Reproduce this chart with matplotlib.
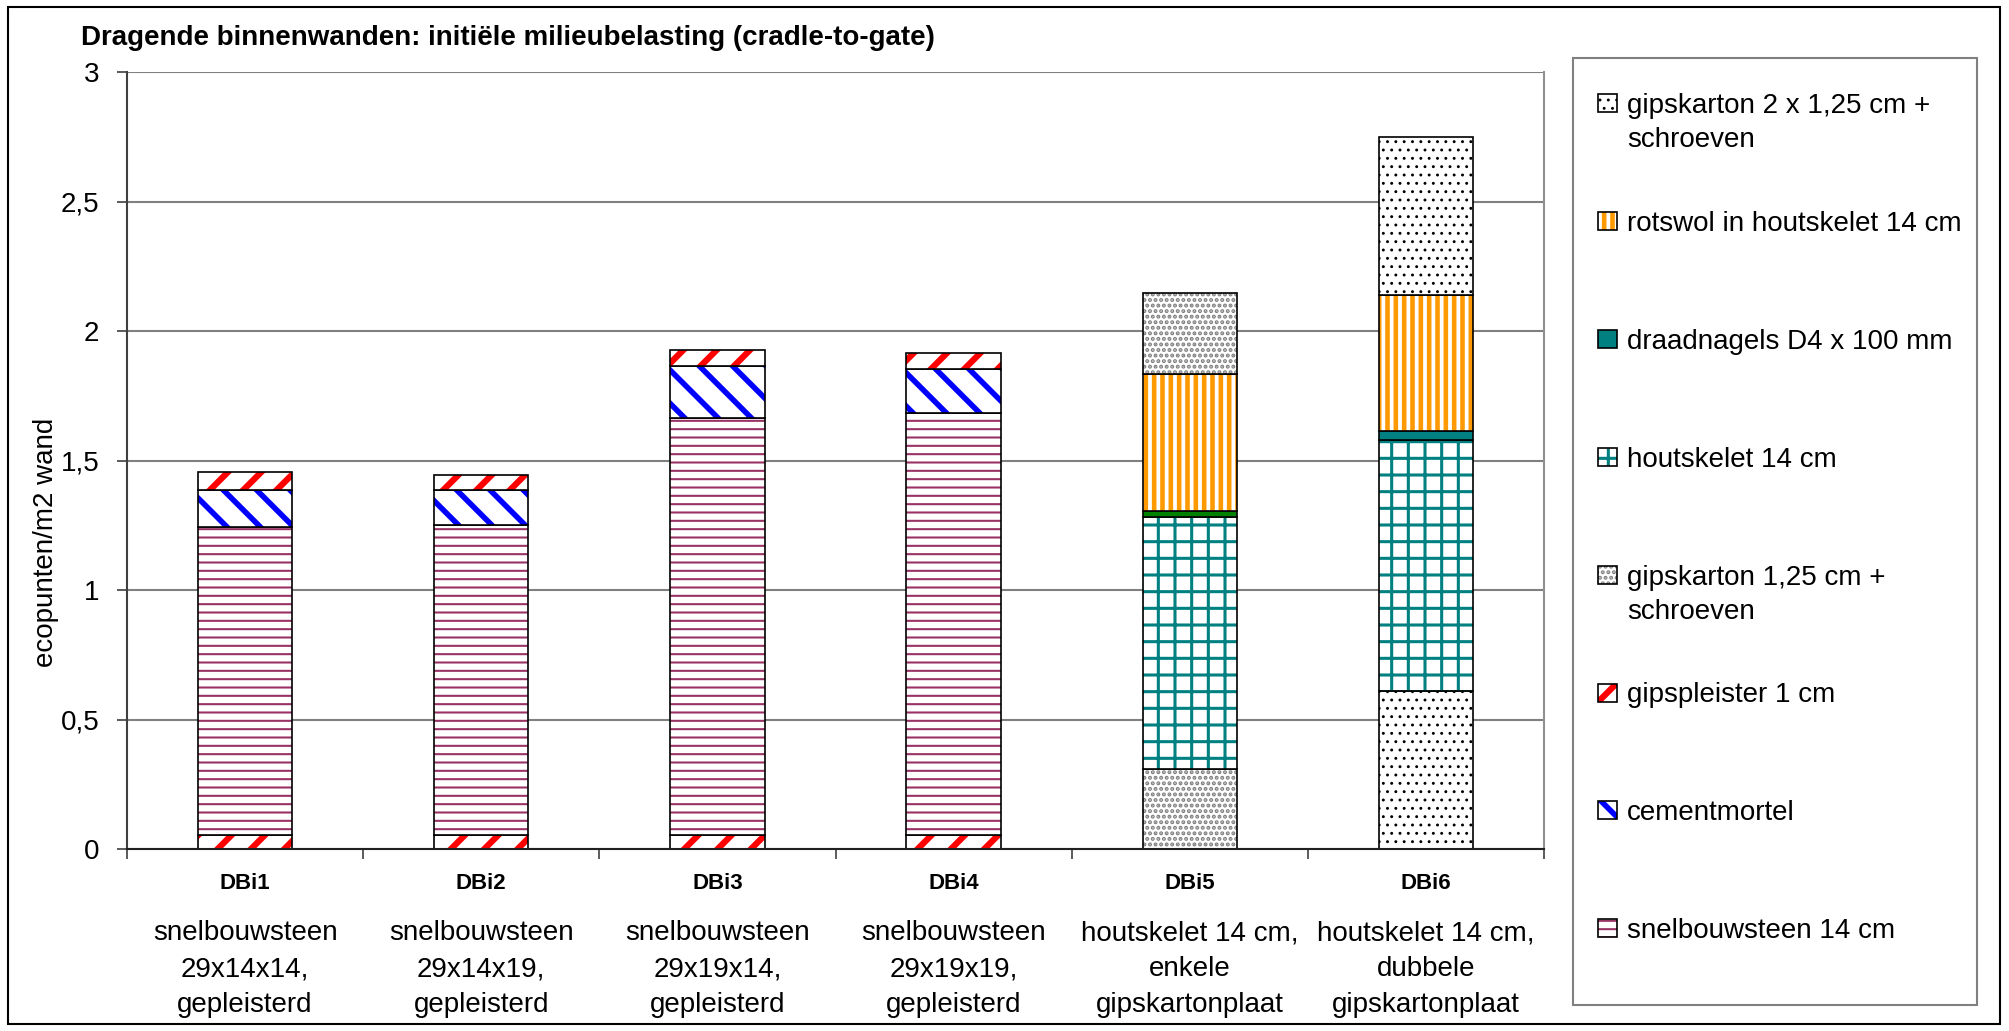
import numpy as np
import matplotlib.pyplot as plt
import matplotlib.transforms as mtransforms
from matplotlib.patches import Rectangle

plt.rcParams['font.family'] = ['Liberation Sans', 'DejaVu Sans']

W, H = 2009, 1031

codes = ['DBi1', 'DBi2', 'DBi3', 'DBi4', 'DBi5', 'DBi6']
beschrijving = ['snelbouwsteen\n29x14x14,\ngepleisterd',
                'snelbouwsteen\n29x14x19,\ngepleisterd',
                'snelbouwsteen\n29x19x14,\ngepleisterd',
                'snelbouwsteen\n29x19x19,\ngepleisterd',
                'houtskelet 14 cm,\nenkele\ngipskartonplaat',
                'houtskelet 14 cm,\ndubbele\ngipskartonplaat']

# waarden (ecopunten/m2 wand), van onder naar boven gestapeld
gipspleister_onder = [0.055, 0.055, 0.055, 0.055, 0, 0]
gipskarton_onder = [0, 0, 0, 0, 0.31, 0]
gipskarton2_onder = [0, 0, 0, 0, 0, 0.61]
snelbouwsteen = [1.19, 1.195, 1.61, 1.63, 0, 0]
houtskelet = [0, 0, 0, 0, 0.97, 0.97]
draadnagels = [0, 0, 0, 0, 0.025, 0.033]
rotswol = [0, 0, 0, 0, 0.53, 0.525]
cementmortel = [0.14, 0.135, 0.20, 0.17, 0, 0]
gipspleister_boven = [0.07, 0.06, 0.06, 0.06, 0, 0]
gipskarton_boven = [0, 0, 0, 0, 0.31, 0]
gipskarton2_boven = [0, 0, 0, 0, 0, 0.612]

legend_labels = ['gipskarton 2 x 1,25 cm +\nschroeven',
                 'rotswol in houtskelet 14 cm',
                 'draadnagels D4 x 100 mm',
                 'houtskelet 14 cm',
                 'gipskarton 1,25 cm +\nschroeven',
                 'gipspleister 1 cm',
                 'cementmortel',
                 'snelbouwsteen 14 cm']
legend_keys = ['gk2', 'rots', 'draad', 'hout', 'gk', 'gips', 'cem', 'snel']

# stijl: (hatch, hatchkleur / vulkleur, hatch-lijndikte)
stijl = {
    'snel': ('--', '#993366', 1.5),
    'gips': ('/', '#FF0000', 4.5),
    'cem': ('\\', '#0000FF', 4.0),
    'hout': ('+', '#008080', 2.2),
    'draad': (None, '#008080', 1.0),
    'rots': ('||', '#FF9900', 3.3),
    'gk': ('...', '#808080', 2.0),
    'gk2': ('..', '#000000', 0.9),
}

lagen = [(gipspleister_onder, 'gips'), (gipskarton_onder, 'gk'),
         (gipskarton2_onder, 'gk2'), (snelbouwsteen, 'snel'),
         (houtskelet, 'hout'), (draadnagels, 'draad'), (rotswol, 'rots'),
         (cementmortel, 'cem'), (gipspleister_boven, 'gips'),
         (gipskarton_boven, 'gk'), (gipskarton2_boven, 'gk2')]


def fx(x):
    return x / W


def fy(y):
    return 1 - y / H


fig = plt.figure(figsize=(W / 100, H / 100), dpi=100)
ax = fig.add_axes([fx(127), fy(849), fx(1544) - fx(127), fy(72) - fy(849)])

x = np.arange(len(codes))
breedte = 0.4
bottom = np.zeros(len(codes))
for waarden, key in lagen:
    waarden = np.array(waarden, dtype=float)
    m = waarden > 0
    hatch, kleur, hlw = stijl[key]
    if key == 'draad':
        kleuren = ['#008000' if c == 'DBi5' else '#008080' for c in codes]
        ax.bar(x[m], waarden[m], breedte, bottom=bottom[m],
               color=[k for k, b in zip(kleuren, m) if b], linewidth=0)
    else:
        # hatch-lijndikte wordt bij het aanmaken van de patch gelezen
        plt.rcParams['hatch.linewidth'] = hlw
        ax.bar(x[m], waarden[m], breedte, bottom=bottom[m], color='white',
               edgecolor=kleur, hatch=hatch, linewidth=0)
    ax.bar(x[m], waarden[m], breedte, bottom=bottom[m], fill=False,
           edgecolor='black', linewidth=1.2)
    bottom += waarden

ax.set_xlim(-0.5, len(codes) - 0.5)
ax.set_ylim(0, 3)

yt = np.arange(0, 3.01, 0.5)
ax.set_yticks(yt, [f'{v:g}'.replace('.', ',') for v in yt])
ax.tick_params(axis='y', labelsize=20, length=7, width=1.2, color='#404040', pad=13)
ax.set_xticks(x, codes, fontweight='bold')
ax.set_xticks(np.arange(len(codes) + 1) - 0.5, minor=True)
ax.tick_params(axis='x', which='major', length=0, labelsize=16, pad=17)
ax.tick_params(axis='x', which='minor', length=7, width=1.2, color='#404040')

ax.yaxis.grid(True, color='#808080', linewidth=1.5)
ax.set_axisbelow(True)
ax.spines['top'].set_visible(False)
ax.spines['left'].set_color('#404040')
ax.spines['left'].set_linewidth(1.5)
ax.spines['bottom'].set_color('#202020')
ax.spines['bottom'].set_linewidth(1.5)
ax.spines['right'].set_color('#909090')
ax.spines['right'].set_linewidth(1.5)

ax.set_ylabel('ecopunten/m2 wand', fontsize=20)
ax.yaxis.set_label_coords(-0.048, 0.395)

trans = mtransforms.blended_transform_factory(ax.transData, ax.transAxes)
for i, tekst in enumerate(beschrijving):
    ax.text(x[i], (849 - 920) / 777, tekst, transform=trans, ha='center',
            va='top', fontsize=20, linespacing=1.5)

fig.text(fx(81), fy(38), 'Dragende binnenwanden: initiële milieubelasting (cradle-to-gate)',
         fontsize=20, fontweight='bold', ha='left', va='center')

# legenda
fig.add_artist(Rectangle((fx(1573), fy(1005)), fx(1977) - fx(1573), fy(58) - fy(1005),
                         transform=fig.transFigure, fill=False, edgecolor='#808080',
                         linewidth=1.5))
for j, (lab, key) in enumerate(zip(legend_labels, legend_keys)):
    yc = 103 + j * 117.9
    hatch, kleur, hlw = stijl[key]
    if key == 'draad':
        fig.add_artist(Rectangle((fx(1598), fy(yc + 9)), fx(19), fy(0) - fy(18),
                                 transform=fig.transFigure, facecolor=kleur,
                                 edgecolor='black', linewidth=1.2))
    else:
        plt.rcParams['hatch.linewidth'] = hlw
        fig.add_artist(Rectangle((fx(1598), fy(yc + 9)), fx(19), fy(0) - fy(18),
                                 transform=fig.transFigure, facecolor='white',
                                 edgecolor=kleur, hatch=hatch, linewidth=0))
        fig.add_artist(Rectangle((fx(1598), fy(yc + 9)), fx(19), fy(0) - fy(18),
                                 transform=fig.transFigure, fill=False,
                                 edgecolor='black', linewidth=1.2))
    fig.text(fx(1627), fy(yc - 10), lab, fontsize=20, ha='left', va='top',
             linespacing=1.4)

# kader om de grafiek
fig.add_artist(Rectangle((fx(8), fy(1024)), fx(2000) - fx(8), fy(7) - fy(1024),
                         transform=fig.transFigure, fill=False, edgecolor='black',
                         linewidth=1.5))

fig.savefig('out.png', dpi=100)
